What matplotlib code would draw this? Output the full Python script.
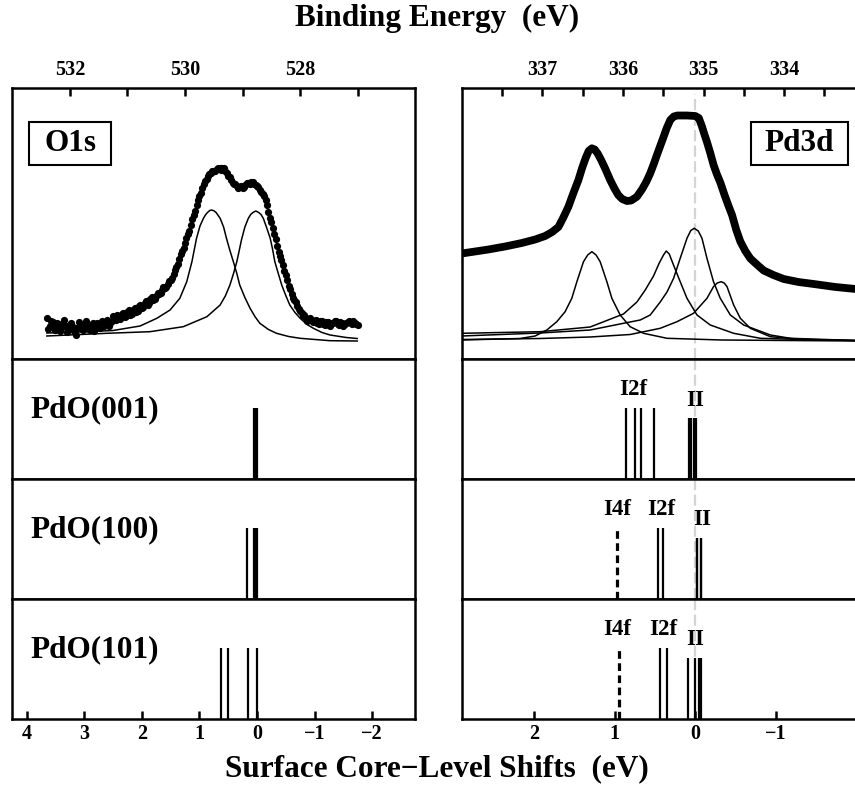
import numpy as np
import matplotlib
matplotlib.use('Agg')
import matplotlib.pyplot as plt
from matplotlib.patches import Rectangle

plt.rcParams['font.family'] = ['Liberation Serif', 'DejaVu Serif']
plt.rcParams['font.weight'] = 'bold'
plt.rcParams['axes.linewidth'] = 1.8

# ---- O1s spectrum (binding energy scan, 0.025 eV step, counts in arb. units) ----
o1s_scan = (532.40, 527.00)
o1s_counts = [41, 30, 33, 38, 37, 31, 29, 36, 35, 28, 31, 36, 39, 33, 27, 30, 34, 36, 32, 28,
              24, 31, 37, 34, 31, 29, 35, 38, 33, 30, 29, 34, 36, 28, 32, 36, 34, 31, 38, 36,
              33, 35, 39, 33, 36, 38, 43, 40, 39, 44, 41, 40, 45, 46, 42, 43, 47, 49, 44, 45,
              49, 51, 47, 48, 53, 54, 51, 52, 56, 58, 54, 56, 60, 62, 59, 60, 63, 66, 65, 66,
              69, 72, 71, 72, 75, 78, 79, 81, 85, 89, 92, 95, 100, 105, 108, 111, 116, 121, 125, 128,
              134, 140, 144, 148, 154, 159, 163, 166, 171, 175, 178, 180, 183, 185, 186, 188, 188, 188, 190, 191,
              191, 189, 191, 191, 188, 186, 183, 182, 179, 176, 175, 175, 173, 171, 172, 173, 171, 172, 174, 176,
              176, 175, 177, 177, 175, 174, 173, 172, 169, 167, 165, 163, 159, 154, 147, 141, 137, 131, 125, 120,
              113, 107, 103, 99, 94, 88, 84, 79, 73, 70, 65, 61, 59, 57, 53, 50, 48, 46, 43, 44,
              41, 38, 39, 41, 39, 37, 37, 39, 36, 35, 38, 38, 35, 34, 37, 37, 34, 33, 36, 36,
              38, 38, 35, 34, 37, 36, 33, 35, 36, 37, 38, 36, 35, 38, 36, 35, 34]
o1s_ref = 528.75

# O1s fit components
o1s_c1_be = [532.40, 531.82, 531.25, 530.78, 530.49, 530.26, 530.09, 529.97, 529.88, 529.80,
             529.74, 529.68, 529.64, 529.61, 529.57, 529.54, 529.50, 529.46, 529.43, 529.39,
             529.33, 529.28, 529.22, 529.16, 529.10, 529.05, 528.96, 528.87, 528.78, 528.70,
             528.55, 528.41, 528.20, 528.00, 527.48, 527.01]
o1s_c1_cnt = [26, 27, 28.5, 33, 40.7, 49, 60.7, 77.3, 97.3, 120.7,
              133, 140.7, 144.5, 146.5, 148.5, 149, 148.3, 146.5, 144, 140.7,
              132, 120.7, 108.5, 97.3, 85.5, 74, 61.5, 50.7, 42, 35.7,
              29.5, 25.7, 22.5, 20.7, 18.3, 18]
o1s_c2_be = [532.40, 531.36, 530.61, 530.03, 529.62, 529.39, 529.30, 529.22, 529.16, 529.10,
             529.06, 529.02, 528.96, 528.90, 528.86, 528.82, 528.77, 528.72, 528.68, 528.64,
             528.58, 528.52, 528.48, 528.44, 528.38, 528.32, 528.25, 528.18, 528.09, 528.00,
             527.88, 527.77, 527.62, 527.48, 527.20, 527.01]
o1s_c2_cnt = [23, 25.7, 27.3, 32.3, 42.3, 54, 63, 74, 85, 97.3,
              108, 119, 132, 140.7, 144.5, 146.5, 148, 146.5, 144.5, 140.7,
              131, 120.7, 110, 97.3, 85.5, 74, 63.5, 54, 46.5, 40.7,
              34.5, 30.7, 26.5, 24, 21.5, 20.5]

# ---- Pd3d spectrum ----
pd_be = [338.000, 337.835, 337.670, 337.462, 337.255, 337.089, 336.965, 336.878, 336.800, 336.742,
         336.676, 336.614, 336.552, 336.506, 336.462, 336.425, 336.385, 336.350, 336.313, 336.270,
         336.220, 336.158, 336.108, 336.058, 336.009, 335.950, 335.897, 335.826, 335.760, 335.711,
         335.661, 335.617, 335.578, 335.537, 335.496, 335.456, 335.412, 335.369, 335.325, 335.205,
         335.101, 335.058, 335.021, 334.990, 334.957, 334.916, 334.875, 334.835, 334.789, 334.739,
         334.689, 334.646, 334.593, 334.543, 334.481, 334.419, 334.345, 334.253, 334.133, 334.005,
         333.822, 333.632, 333.363, 333.114]
pd_cnt = [105.5, 107.5, 109.5, 112.5, 116, 119.5, 123, 127, 132, 141,
          152.3, 166, 179, 191, 201, 208, 210.7, 209.5, 205.5, 199,
          190.5, 179, 171, 164, 160, 158, 158.5, 162.3, 170, 177,
          185.7, 195, 204, 213, 222, 231, 239, 242.5, 243.5, 243.5,
          243, 241, 233, 225, 217, 206, 194, 185, 176, 164,
          153, 144, 129, 117.5, 108, 100.5, 95, 88.5, 84, 80,
          77, 75, 72, 70]
pd_ref = 335.1

# Pd3d fit components
pd_c1_be = [338.000, 337.276, 337.089, 336.944, 336.820, 336.717, 336.634, 336.571, 336.489, 336.437,
            336.385, 336.333, 336.282, 336.199, 336.137, 336.034, 335.910, 335.744, 335.453, 334.776,
            333.110]
pd_c1_cnt = [19, 20.5, 23, 29, 37.3, 47.3, 60.7, 77.3, 97.3, 104,
             107.3, 104, 97.3, 77.3, 60.7, 44, 32.3, 25.7, 20.7, 19,
             18]
pd_c2_be = [338.000, 337.027, 336.406, 335.993, 335.826, 335.723, 335.620, 335.549, 335.496, 335.462,
            335.425, 335.372, 335.289, 335.205, 335.081, 334.916, 334.626, 334.294, 333.797, 333.110]
pd_c2_cnt = [25.7, 27.3, 32, 45, 57, 69, 83, 96, 104, 108,
             105, 94, 77.3, 60.7, 44, 34, 25.7, 20.7, 19.5, 18.5]
pd_c3_be = [338.000, 337.027, 336.406, 335.993, 335.785, 335.661, 335.537, 335.453, 335.371, 335.289,
            335.205, 335.158, 335.115, 335.065, 335.019, 334.957, 334.876, 334.792, 334.667, 334.502,
            334.170, 333.922, 333.110]
pd_c3_cnt = [23, 26, 29, 35.7, 39, 44, 57, 67, 80.7, 100.7,
             120.7, 128.5, 130.7, 128, 120.7, 100.7, 77.3, 60.7, 44, 34,
             24, 20.7, 18.5]
pd_c4_be = [338.000, 337.027, 336.406, 335.910, 335.537, 335.329, 335.123, 334.957, 334.876, 334.830,
            334.780, 334.743, 334.708, 334.626, 334.543, 334.419, 334.170, 333.797, 333.110]
pd_c4_cnt = [19.5, 20.5, 22, 24.5, 30.7, 37.3, 45.7, 60.7, 72.3, 76,
             77.3, 76, 72.3, 54, 40.7, 30.7, 22.3, 19.7, 18.5]

# ---- computed surface core-level shifts (eV) and stick heights ----
surfaces = ['PdO(001)', 'PdO(100)', 'PdO(101)']
o1s_shifts = [[0.06, 0.03, 0.0], [0.17, 0.05, 0.025, 0.0], [0.63, 0.50, 0.15, 0.0]]
o1s_heights = [0.59, 0.59, 0.59]

pd_i4f = [None, 0.973, 0.948]
pd_i4f_height = 0.575
pd_i2f = [[0.866, 0.745, 0.679, 0.518], [0.468, 0.401], [0.435, 0.348]]
pd_i2f_height = 0.59
pd_ii = [[0.08, 0.05, 0.02, -0.01], [-0.015, -0.025, -0.065, -0.075], [0.095, 0.008, -0.04, -0.07]]
pd_ii_height = 0.506

# label positions (shift, height) per row
i4f_labels = [None, (0.973, 0.742), (0.973, 0.742)]
i2f_labels = [(0.774, 0.742), (0.422, 0.748), (0.394, 0.742)]
ii_labels = [(0.009, 0.658), (-0.083, 0.664), (0.009, 0.664)]

W, H = 855, 787
fig = plt.figure(figsize=(W / 100, H / 100), dpi=100)


def add_axes_px(x0, y0, w, h):
    return fig.add_axes([x0 / W, 1 - (y0 + h) / H, w / W, h / H])


col_x = [12.3, 461.7]
col_w = 403
top_y, top_h = 88.3, 270.7
row_y = [359, 479, 599]
row_h = 120
o1s_lim = (533, 526)
pd_lim = (338, 333)

tick_kw = dict(direction='in', length=6, width=1.8, labelsize=14.5)

# ---- spectra ----
ax_o = add_axes_px(col_x[0], top_y, col_w, top_h)
ax_p = add_axes_px(col_x[1], top_y, col_w, top_h)

o1s_be = np.linspace(o1s_scan[0], o1s_scan[1], len(o1s_counts))
ax_o.plot(o1s_be, o1s_counts, 'o', color='k', ms=5.2, mew=0)
ax_o.plot(o1s_c1_be, o1s_c1_cnt, color='k', lw=1.1)
ax_o.plot(o1s_c2_be, o1s_c2_cnt, color='k', lw=1.1)
ax_o.set_xlim(*o1s_lim)
ax_o.set_xticks([532, 530, 528])
ax_o.set_xticks([531, 529, 527], minor=True)

ax_p.axvline(pd_ref, ymax=0.98, color='#d4d4d4', lw=1.6, ls=(0, (5, 2)), zorder=0)
ax_p.plot(pd_be, pd_cnt, color='k', lw=5.6, solid_capstyle='round', solid_joinstyle='round')
for be, cnt in [(pd_c1_be, pd_c1_cnt), (pd_c2_be, pd_c2_cnt), (pd_c3_be, pd_c3_cnt), (pd_c4_be, pd_c4_cnt)]:
    ax_p.plot(be, cnt, color='k', lw=1.1)
ax_p.set_xlim(*pd_lim)
ax_p.set_xticks([337, 336, 335, 334])
ax_p.set_xticks([337.5, 336.5, 335.5, 334.5, 333.5], minor=True)

for ax in (ax_o, ax_p):
    ax.set_ylim(0, top_h)
    ax.set_yticks([])
    ax.xaxis.tick_top()
    ax.tick_params(axis='x', which='both', pad=6, **tick_kw)

# boxed core-level labels
for ax, name, x0, x1 in [(ax_o, 'O1s', 0.042, 0.245), (ax_p, 'Pd3d', 0.717, 0.959)]:
    ax.add_patch(Rectangle((x0, 0.717), x1 - x0, 0.160, transform=ax.transAxes,
                           fill=False, ec='k', lw=1.5))
    ax.text((x0 + x1) / 2, 0.797, name, transform=ax.transAxes, ha='center', va='center',
            fontsize=22.5, fontweight='bold')

# ---- stick panels (shifts relative to the bulk peak) ----
for i, name in enumerate(surfaces):
    ax_l = add_axes_px(col_x[0], row_y[i], col_w, row_h)
    ax_r = add_axes_px(col_x[1], row_y[i], col_w, row_h)

    ax_l.vlines(o1s_shifts[i], 0, o1s_heights[i], color='k', lw=1.6)
    ax_l.text(0.044, 0.575, name, transform=ax_l.transAxes, ha='left', va='center',
              fontsize=22.5, fontweight='bold')
    ax_l.set_xlim(o1s_lim[0] - o1s_ref, o1s_lim[1] - o1s_ref)

    ax_r.axvline(0, color='#d4d4d4', lw=1.6, ls=(0, (5, 2)), zorder=0)
    if pd_i4f[i] is not None:
        ax_r.vlines([pd_i4f[i]], 0, pd_i4f_height, color='k', lw=2.3, linestyles=(0, (2.4, 1.4)))
        ax_r.text(*i4f_labels[i], 'I4f', ha='center', va='center', fontsize=16.5, fontweight='bold')
    ax_r.vlines(pd_i2f[i], 0, pd_i2f_height, color='k', lw=1.6)
    ax_r.vlines(pd_ii[i], 0, pd_ii_height, color='k', lw=1.6)
    ax_r.text(*i2f_labels[i], 'I2f', ha='center', va='center', fontsize=16.5, fontweight='bold')
    ax_r.text(*ii_labels[i], 'II', ha='center', va='center', fontsize=16.5, fontweight='bold')
    ax_r.set_xlim(pd_lim[0] - pd_ref, pd_lim[1] - pd_ref)

    for ax in (ax_l, ax_r):
        ax.set_ylim(0, 1)
        ax.set_yticks([])
        if i < 2:
            ax.set_xticks([])
        else:
            ax.tick_params(axis='x', pad=3.5, **tick_kw)
    if i == 2:
        ax_l.set_xticks([4, 3, 2, 1, 0, -1, -2])
        ax_r.set_xticks([2, 1, 0, -1])

fig.text(437.5 / W, 1 - 18.3 / H, 'Binding Energy  (eV)', ha='center', va='center',
         fontsize=22.5, fontweight='bold')
fig.text(436.7 / W, 1 - 768.3 / H, 'Surface Core\u2212Level Shifts  (eV)', ha='center', va='center',
         fontsize=22.5, fontweight='bold')

fig.savefig('out.png', dpi=100)
